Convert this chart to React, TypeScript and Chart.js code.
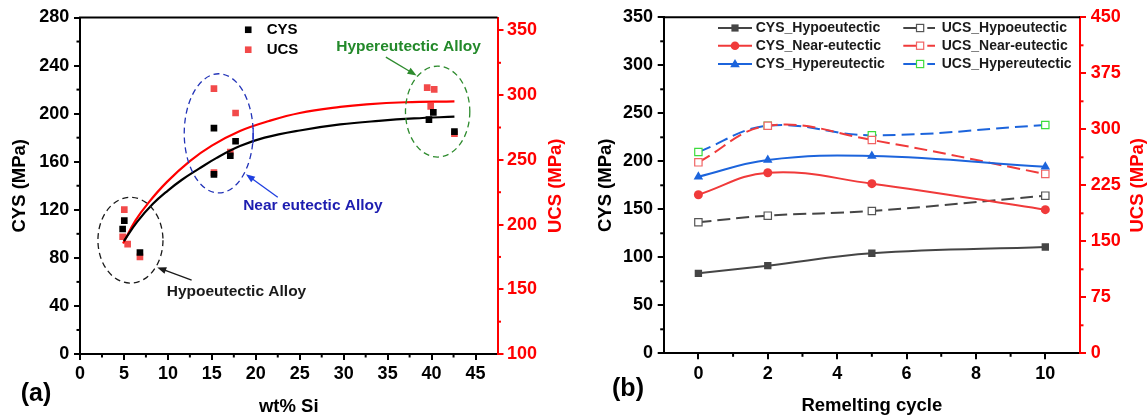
import React, { useEffect, useRef } from "react";
import { Chart, registerables } from "chart.js";

Chart.register(...registerables);

const FONT = "'Liberation Sans', Arial, Helvetica, sans-serif";
Chart.defaults.font.family = FONT;

// ---------------- Panel (a) ----------------
const siTicks = [0, 5, 10, 15, 20, 25, 30, 35, 40, 45];
const siMinor = [2.5, 7.5, 12.5, 17.5, 22.5, 27.5, 32.5, 37.5, 42.5];
const cysTicksA = [0, 40, 80, 120, 160, 200, 240, 280];
const cysMinorA = [20, 60, 100, 140, 180, 220, 260];
const ucsTicksA = [100, 150, 200, 250, 300, 350];
const ucsMinorA = [125, 175, 225, 275, 325];

const cysSi = [4.85, 5.04, 6.82, 15.24, 15.24, 17.1, 17.7, 39.7, 40.2, 42.6];
const cysVal = [104, 111, 84.5, 188, 149.5, 165, 177, 195, 201, 185];
const ucsSi = [5.04, 4.85, 5.42, 6.82, 15.24, 15.24, 17.1, 17.7, 39.5, 40.3, 39.9, 42.6];
const ucsVal = [211.6, 190.6, 184.9, 175.1, 305.1, 240.1, 256.0, 286.2, 305.8, 304.5, 291.3, 270.2];

const cysFitSi = [5.0, 6.5, 8.3, 10, 11.6, 13.5, 15.5, 18.2, 21, 25, 29.6, 34, 38, 42.6];
const cysFitVal = [94, 110, 125, 136, 145, 154, 163, 173, 180, 186, 191, 194, 196, 197.5];
const ucsFitSi = [4.9, 6.3, 7.8, 9.9, 12.5, 15, 18.2, 21.5, 25, 29.6, 32.6, 37, 42.6];
const ucsFitVal = [185.4, 203, 217, 233, 249, 261, 272.3, 280, 286.2, 290.9, 292.9, 294.5, 295.2];

// ---------------- Panel (b) ----------------
const cycleTicks = [0, 2, 4, 6, 8, 10];
const cycleMinor = [1, 3, 5, 7, 9];
const cysTicksB = [0, 50, 100, 150, 200, 250, 300, 350];
const cysMinorB = [25, 75, 125, 175, 225, 275, 325];
const ucsTicksB = [0, 75, 150, 225, 300, 375, 450];
const ucsMinorB = [37.5, 112.5, 187.5, 262.5, 337.5, 412.5];

const cycles = [0, 2, 5, 10];
const cysHypo = [83.3, 91.3, 104.2, 110.7];
const cysNear = [165.2, 188.1, 176.7, 149.6];
const cysHyper = [184, 201.4, 205.5, 194.4];
const ucsHypo = [175.5, 184.3, 190.6, 211.1];
const ucsNear = [255.8, 304.8, 285.7, 240.2];
const ucsHyper = [269.6, 304.8, 292, 305.7];

const pts = (xs: number[], ys: number[]) => xs.map((x, i) => ({ x, y: ys[i] }));

const bold = (size: number) => ({ family: FONT, size, weight: "bold" as const });

function makeFramePlugin(
  minor: Record<string, number[]>,
  panelLabel: string,
  labelPos: [number, number],
  rightTitle: string,
  rightTitleX: number
) {
  return {
    id: "frame",
    afterDraw(chart: any) {
      const { ctx, chartArea } = chart;
      ctx.save();
      for (const id of Object.keys(minor)) {
        const s = chart.scales[id];
        ctx.strokeStyle = s.options.border.color;
        ctx.lineWidth = 2;
        for (const v of minor[id]) {
          const p = s.getPixelForValue(v);
          ctx.beginPath();
          if (s.isHorizontal()) {
            ctx.moveTo(p, s.top);
            ctx.lineTo(p, s.top + 3.5);
          } else if (s.position === "left") {
            ctx.moveTo(s.right, p);
            ctx.lineTo(s.right - 3.5, p);
          } else {
            ctx.moveTo(s.left, p);
            ctx.lineTo(s.left + 3.5, p);
          }
          ctx.stroke();
        }
      }
      // top frame
      ctx.strokeStyle = "#000";
      ctx.lineWidth = 2;
      ctx.beginPath();
      ctx.moveTo(chartArea.left - 1, chartArea.top);
      ctx.lineTo(chartArea.right, chartArea.top);
      ctx.stroke();
      // panel label
      ctx.fillStyle = "#000";
      ctx.font = `bold 25px ${FONT}`;
      ctx.textAlign = "center";
      ctx.textBaseline = "middle";
      ctx.fillText(panelLabel, labelPos[0], labelPos[1]);
      // right axis title (reads bottom-to-top)
      ctx.save();
      ctx.translate(rightTitleX, (chartArea.top + chartArea.bottom) / 2);
      ctx.rotate(-Math.PI / 2);
      ctx.fillStyle = "#ff0000";
      ctx.font = `bold 18.5px ${FONT}`;
      ctx.fillText(rightTitle, 0, 0);
      ctx.restore();
      ctx.restore();
    },
  };
}

function drawArrow(ctx: CanvasRenderingContext2D, x1: number, y1: number, x2: number, y2: number, color: string) {
  const ang = Math.atan2(y2 - y1, x2 - x1);
  const L = 9, W = 3.5;
  ctx.save();
  ctx.strokeStyle = color;
  ctx.fillStyle = color;
  ctx.lineWidth = 1.3;
  ctx.setLineDash([]);
  ctx.beginPath();
  ctx.moveTo(x1, y1);
  ctx.lineTo(x2 - Math.cos(ang) * L * 0.8, y2 - Math.sin(ang) * L * 0.8);
  ctx.stroke();
  ctx.beginPath();
  ctx.moveTo(x2, y2);
  ctx.lineTo(x2 - Math.cos(ang) * L - Math.sin(ang) * W, y2 - Math.sin(ang) * L + Math.cos(ang) * W);
  ctx.lineTo(x2 - Math.cos(ang) * L + Math.sin(ang) * W, y2 - Math.sin(ang) * L - Math.cos(ang) * W);
  ctx.closePath();
  ctx.fill();
  ctx.restore();
}

const annotAPlugin = {
  id: "annotA",
  afterDatasetsDraw(chart: any) {
    const { ctx } = chart;
    const x = chart.scales.x, y = chart.scales.y;
    const px = (v: number) => x.getPixelForValue(v);
    const py = (v: number) => y.getPixelForValue(v);
    const ellipses = [
      { cx: 5.74, cy: 94.7, rx: 3.7, ry: 35.7, color: "#1a1a1a" },
      { cx: 15.78, cy: 183.6, rx: 3.92, ry: 49.6, color: "#2233b8" },
      { cx: 40.69, cy: 201.7, rx: 3.66, ry: 37.8, color: "#2e8b2e" },
    ];
    ctx.save();
    for (const e of ellipses) {
      ctx.beginPath();
      ctx.setLineDash([6, 4]);
      ctx.lineWidth = 1.3;
      ctx.strokeStyle = e.color;
      ctx.ellipse(px(e.cx), py(e.cy), px(e.cx + e.rx) - px(e.cx), py(e.cy) - py(e.cy + e.ry), 0, 0, Math.PI * 2);
      ctx.stroke();
    }
    ctx.setLineDash([]);
    // small blue mark
    ctx.strokeStyle = "#2233cc";
    ctx.lineWidth = 1.3;
    ctx.beginPath();
    ctx.moveTo(px(19.7), py(175.3));
    ctx.lineTo(px(19.7), py(187.8));
    ctx.stroke();
    drawArrow(ctx, px(12.7), py(61.5), px(8.79), py(72), "#1a1a1a");
    drawArrow(ctx, px(22.5), py(130.4), px(18.88), py(149.6), "#1f3fe0");
    drawArrow(ctx, px(34.8), py(247), px(38.29), py(231.8), "#2e8b2e");

    ctx.font = `bold 15.5px ${FONT}`;
    ctx.textAlign = "center";
    ctx.textBaseline = "middle";
    ctx.fillStyle = "#1a1a1a";
    ctx.fillText("Hypoeutectic Alloy", px(17.8), py(51.8));
    ctx.fillStyle = "#1d1db0";
    ctx.fillText("Near eutectic Alloy", px(26.5), py(123));
    ctx.fillStyle = "#23892a";
    ctx.fillText("Hypereutectic Alloy", px(37.38), py(256));

    // legend
    const lx = px(19.14);
    const rows = [
      { v: 269.8, color: "#000", text: "CYS" },
      { v: 253.2, color: "#f24a4a", text: "UCS" },
    ];
    ctx.font = `bold 15px ${FONT}`;
    ctx.textAlign = "left";
    for (const r of rows) {
      const yy = py(r.v);
      ctx.fillStyle = r.color;
      ctx.fillRect(lx - 3.3, yy - 3.3, 6.6, 6.6);
      ctx.fillStyle = "#000";
      ctx.fillText(r.text, lx + 18.4, yy);
    }
    ctx.restore();
  },
};

const legendBPlugin = {
  id: "legendB",
  afterDraw(chart: any) {
    const { ctx } = chart;
    const ds = chart.data.datasets;
    const rowsY = [28, 45.7, 64];
    ctx.save();
    ctx.font = `bold 14px ${FONT}`;
    ctx.textBaseline = "middle";
    ctx.textAlign = "left";
    ds.forEach((d: any, i: number) => {
      const col = i < 3 ? 0 : 1;
      const yy = rowsY[i % 3];
      ctx.strokeStyle = d.borderColor;
      ctx.lineWidth = 2;
      ctx.setLineDash([]);
      if (col === 0) {
        ctx.beginPath();
        ctx.moveTo(145, yy);
        ctx.lineTo(179, yy);
        ctx.stroke();
        const cx = 162;
        ctx.fillStyle = d.borderColor;
        ctx.beginPath();
        if (d.pointStyle === "rect") ctx.rect(cx - 3.6, yy - 3.6, 7.2, 7.2);
        else if (d.pointStyle === "circle") ctx.arc(cx, yy, 4.3, 0, Math.PI * 2);
        else {
          ctx.moveTo(cx, yy - 5);
          ctx.lineTo(cx + 4.8, yy + 3.3);
          ctx.lineTo(cx - 4.8, yy + 3.3);
          ctx.closePath();
        }
        ctx.fill();
        ctx.fillStyle = "#1a1a1a";
        ctx.fillText(d.label, 182.7, yy);
      } else {
        ctx.beginPath();
        ctx.moveTo(330.3, yy);
        ctx.lineTo(343.5, yy);
        ctx.moveTo(354.3, yy);
        ctx.lineTo(362, yy);
        ctx.stroke();
        ctx.fillStyle = "#fff";
        ctx.strokeStyle = d.pointBorderColor;
        ctx.lineWidth = 1.2;
        ctx.fillRect(343.5, yy - 3.6, 7.2, 7.2);
        ctx.strokeRect(343.5, yy - 3.6, 7.2, 7.2);
        ctx.fillStyle = "#1a1a1a";
        ctx.fillText(d.label, 368.7, yy);
      }
    });
    ctx.restore();
  },
};

function axis(opts: {
  position: string;
  min: number;
  max: number;
  ticks: number[];
  color: string;
  size: number;
  title: string;
  titlePad: any;
  labelPad: number;
}) {
  const isX = opts.position === "bottom";
  return {
    type: "linear",
    position: opts.position,
    min: opts.min,
    max: opts.max,
    afterBuildTicks: (s: any) => {
      s.ticks = opts.ticks.map((v) => ({ value: v }));
    },
    afterFit: (s: any) => {
      if (isX) s.height = opts.size;
      else s.width = opts.size;
    },
    grid: { display: true, drawOnChartArea: false, drawTicks: true, tickLength: 6, color: opts.color, lineWidth: 2 },
    border: { display: true, color: opts.color, width: 2 },
    ticks: {
      font: bold(18),
      color: opts.color,
      padding: opts.labelPad,
      maxRotation: 0,
      autoSkip: false,
      callback: (v: any) => String(v),
    },
    title: { display: opts.title !== "", text: opts.title, font: bold(18.5), color: opts.color, padding: opts.titlePad },
  };
}

export default function App() {
  const refA = useRef<HTMLCanvasElement>(null);
  const refB = useRef<HTMLCanvasElement>(null);

  useEffect(() => {
    const chartA = new Chart(refA.current as HTMLCanvasElement, {
      type: "scatter",
      data: {
        datasets: [
          {
            type: "line",
            label: "CYS fit",
            data: pts(cysFitSi, cysFitVal),
            yAxisID: "y",
            borderColor: "#000",
            borderWidth: 2.2,
            pointRadius: 0,
            tension: 0.4,
            fill: false,
          },
          {
            type: "line",
            label: "UCS fit",
            data: pts(ucsFitSi, ucsFitVal),
            yAxisID: "y1",
            borderColor: "#ff0000",
            borderWidth: 2.2,
            pointRadius: 0,
            tension: 0.4,
            fill: false,
          },
          {
            label: "CYS",
            data: pts(cysSi, cysVal),
            yAxisID: "y",
            pointStyle: "rect",
            pointRadius: 4.7,
            backgroundColor: "#000",
            borderColor: "#000",
            borderWidth: 0,
          },
          {
            label: "UCS",
            data: pts(ucsSi, ucsVal),
            yAxisID: "y1",
            pointStyle: "rect",
            pointRadius: 4.7,
            backgroundColor: "#f24a4a",
            borderColor: "#f24a4a",
            borderWidth: 0,
          },
        ],
      } as any,
      options: {
        animation: false,
        responsive: false,
        layout: { padding: { top: 17.5, left: 0, right: 0, bottom: 0 } },
        plugins: { legend: { display: false }, tooltip: { enabled: false } },
        scales: {
          x: axis({ position: "bottom", min: 0, max: 47.5, ticks: siTicks, color: "#000", size: 63, title: "wt% Si", titlePad: { top: 0, bottom: -1 }, labelPad: 3.5 }),
          y: axis({ position: "left", min: 0, max: 280, ticks: cysTicksA, color: "#000", size: 80, title: "CYS (MPa)", titlePad: { top: 9, bottom: 0 }, labelPad: 4.7 }),
          y1: axis({ position: "right", min: 100, max: 360, ticks: ucsTicksA, color: "#ff0000", size: 75.5, title: "", titlePad: 0, labelPad: 3.5 }),
        } as any,
      },
      plugins: [makeFramePlugin({ x: siMinor, y: cysMinorA, y1: ucsMinorA }, "(a)", [36, 394], "UCS (MPa)", 556), annotAPlugin],
    } as any);

    const common = { borderWidth: 2, tension: 0.4, fill: false };
    const chartB = new Chart(refB.current as HTMLCanvasElement, {
      type: "line",
      data: {
        datasets: [
          { ...common, label: "CYS_Hypoeutectic", data: pts(cycles, cysHypo), yAxisID: "y", borderColor: "#454545", backgroundColor: "#454545", pointStyle: "rect", pointRadius: 5.2, pointBorderWidth: 0 },
          { ...common, label: "CYS_Near-eutectic", data: pts(cycles, cysNear), yAxisID: "y", borderColor: "#f03a3a", backgroundColor: "#f03a3a", pointStyle: "circle", pointRadius: 4.5, pointBorderWidth: 0 },
          { ...common, label: "CYS_Hypereutectic", data: pts(cycles, cysHyper), yAxisID: "y", borderColor: "#1c64dc", backgroundColor: "#1c64dc", pointStyle: "triangle", pointRadius: 5.5, pointBorderWidth: 0 },
          { ...common, label: "UCS_Hypoeutectic", data: pts(cycles, ucsHypo), yAxisID: "y1", borderColor: "#454545", borderDash: [13, 6], pointStyle: "rect", pointRadius: 5.2, pointBackgroundColor: "#fff", pointBorderColor: "#555", pointBorderWidth: 1.2 },
          { ...common, label: "UCS_Near-eutectic", data: pts(cycles, ucsNear), yAxisID: "y1", borderColor: "#f03a3a", borderDash: [13, 6], pointStyle: "rect", pointRadius: 5.2, pointBackgroundColor: "#fff", pointBorderColor: "#f06464", pointBorderWidth: 1.2 },
          { ...common, label: "UCS_Hypereutectic", data: pts(cycles, ucsHyper), yAxisID: "y1", borderColor: "#1c64dc", borderDash: [13, 6], pointStyle: "rect", pointRadius: 5.2, pointBackgroundColor: "#fff", pointBorderColor: "#3ddc3d", pointBorderWidth: 1.2 },
        ],
      } as any,
      options: {
        animation: false,
        responsive: false,
        layout: { padding: { top: 17.3, left: 0, right: 0, bottom: 0 } },
        plugins: { legend: { display: false }, tooltip: { enabled: false } },
        scales: {
          x: axis({ position: "bottom", min: -1, max: 11, ticks: cycleTicks, color: "#000", size: 63.7, title: "Remelting cycle", titlePad: { top: 0, bottom: 0 }, labelPad: 3.5 }),
          y: axis({ position: "left", min: 0, max: 350, ticks: cysTicksB, color: "#000", size: 90.7, title: "CYS (MPa)", titlePad: { top: 22, bottom: 0 }, labelPad: 4.7 }),
          y1: axis({ position: "right", min: 0, max: 450, ticks: ucsTicksB, color: "#ff0000", size: 67, title: "", titlePad: 0, labelPad: 4.7 }),
        } as any,
      },
      plugins: [makeFramePlugin({ x: cycleMinor, y: cysMinorB, y1: ucsMinorB }, "(b)", [55, 389], "UCS (MPa)", 565), legendBPlugin],
    } as any);

    return () => {
      chartA.destroy();
      chartB.destroy();
    };
  }, []);

  return (
    <div style={{ position: "absolute", left: 0, top: 0, width: 1147, height: 417, background: "#fff" }}>
      <canvas ref={refA} width={573} height={417} style={{ position: "absolute", left: 0, top: 0, width: 573, height: 417 }} />
      <canvas ref={refB} width={574} height={417} style={{ position: "absolute", left: 573, top: 0, width: 574, height: 417 }} />
    </div>
  );
}
